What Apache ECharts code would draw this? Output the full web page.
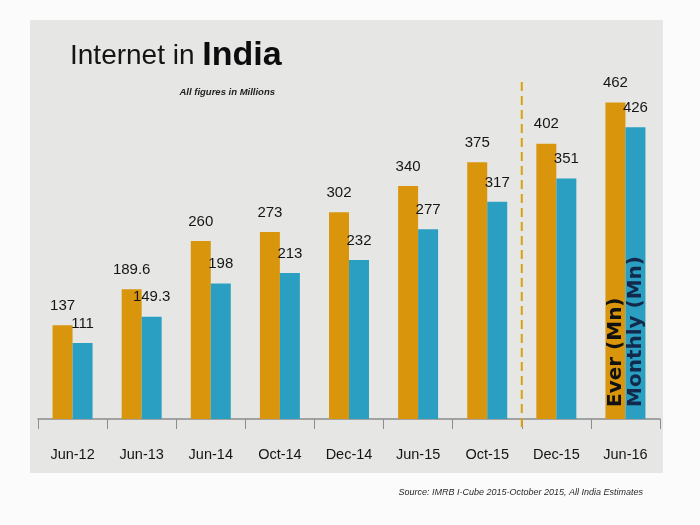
<!DOCTYPE html>
<html><head><meta charset="utf-8">
<script src="https://cdn.jsdelivr.net/npm/echarts@6/dist/echarts.min.js"></script>
<style>html,body{margin:0;padding:0;background:#fbfbfb}#c{width:700px;height:525px}</style>
</head><body><div id="c"></div>
<script>
var categories = ['Jun-12','Jun-13','Jun-14','Oct-14','Dec-14','Jun-15','Oct-15','Dec-15','Jun-16'];
var everValues = [137, 189.6, 260, 273, 302, 340, 375, 402, 462];
var monthlyValues = [111, 149.3, 198, 213, 232, 277, 317, 351, 426];
var everName = 'Ever (Mn)';
var monthlyName = 'Monthly (Mn)';
var dividerIndex = 7;

var SANS = "'Liberation Sans',Arial,sans-serif";
var ORANGE = '#d9960c', BLUE = '#2a9fc2';

function stub(text, color) {
  return categories.map(function (c, i) {
    if (i !== categories.length - 1) return 0;
    return {
      value: 0,
      label: {
        show: true, formatter: text, position: 'insideBottom', distance: 12,
        rotate: 90, align: 'left', verticalAlign: 'middle',
        fontFamily: "'DejaVu Sans',sans-serif", fontWeight: 'bold',
        fontSize: 20, color: color
      }
    };
  });
}

var valLabel = {
  show: true, position: 'top', distance: 12,
  fontFamily: SANS, fontSize: 15, color: '#151515'
};

var chart = echarts.init(document.getElementById('c'), null, {renderer: 'canvas'});
chart.setOption({
  backgroundColor: '#fbfbfb',
  animation: false,
  graphic: [{
    type: 'rect', z: -10, shape: {x: 30, y: 20, width: 633, height: 453},
    style: {fill: '#e6e7e5'}
  }],
  title: [{
    left: 65, top: 31,
    text: '{a|Internet in }{b|India}',
    textStyle: {
      fontWeight: 'normal',
      rich: {
        a: {fontFamily: SANS, fontWeight: 'normal', fontSize: 28, color: '#151515', lineHeight: 40},
        b: {fontFamily: SANS, fontWeight: 'bold', fontSize: 34, color: '#0d0d0d', lineHeight: 40}
      }
    }
  }, {
    right: 420, top: 82,
    text: 'All figures in Millions',
    textStyle: {fontFamily: SANS, fontStyle: 'italic', fontWeight: 'bold', fontSize: 9.5, color: '#222'}
  }, {
    right: 52, top: 483,
    text: 'Source: IMRB I-Cube 2015-October 2015, All India Estimates',
    textStyle: {fontFamily: SANS, fontStyle: 'italic', fontWeight: 'normal', fontSize: 9, color: '#2a2a2a'}
  }],
  grid: {left: 38, right: 40, top: 82, bottom: 106},
  xAxis: {
    type: 'category', data: categories,
    axisLine: {lineStyle: {color: '#8c8c8c', width: 1.5}},
    axisTick: {show: true, interval: 0, length: 10, lineStyle: {color: '#8c8c8c'}},
    axisLabel: {interval: 0, margin: 28, fontFamily: SANS, fontSize: 14.5, color: '#141414'},
    splitLine: {show: false}
  },
  yAxis: {type: 'value', min: 0, max: 492, show: false, splitLine: {show: false}},
  series: [{
    type: 'bar', stack: 'ever', barWidth: 20, barGap: '0%',
    data: stub(everName, '#111'), itemStyle: {color: ORANGE}, label: {show: false}, z: 5
  }, {
    name: everName, type: 'bar', stack: 'ever', barWidth: 20, barGap: '0%',
    data: everValues, itemStyle: {color: ORANGE}, label: valLabel, z: 2
  }, {
    type: 'bar', stack: 'monthly', barWidth: 20, barGap: '0%',
    data: stub(monthlyName, '#13294b'), itemStyle: {color: BLUE}, label: {show: false}, z: 5
  }, {
    name: monthlyName, type: 'bar', stack: 'monthly', barWidth: 20, barGap: '0%',
    data: monthlyValues, itemStyle: {color: BLUE}, label: valLabel, z: 2
  }, {
    type: 'custom', clip: false, z: 1,
    data: [[dividerIndex, 0]],
    renderItem: function (params, api) {
      var base = api.coord([api.value(0), 0]);
      var top = api.coord([api.value(0), 492]);
      var band = api.size([1, 0])[0];
      var x = base[0] - band / 2;
      return {
        type: 'line',
        shape: {x1: x, y1: top[1], x2: x, y2: base[1] + 10},
        style: {stroke: '#d6a30f', lineWidth: 2, lineDash: [9, 5]}
      };
    }
  }]
});
</script></body></html>
